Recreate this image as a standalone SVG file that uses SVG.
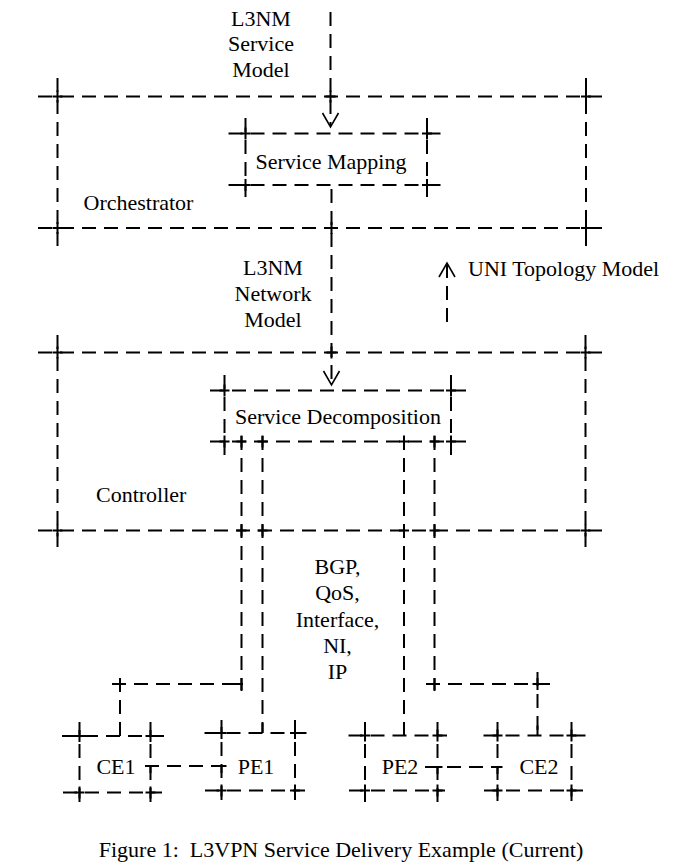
<svg xmlns="http://www.w3.org/2000/svg" width="677" height="868" viewBox="0 0 677 868">
<style>
.d{stroke:#000;stroke-width:2;stroke-dasharray:14 8;fill:none}
.s{stroke:#000;stroke-width:2;fill:none}
.a{stroke:#000;stroke-width:1.6;fill:none}
text{font-family:"Liberation Serif","Times New Roman",serif;font-size:22px;fill:#000}
.c{text-anchor:middle}
</style>
<rect width="677" height="868" fill="#fff"/>
<g id="orchestrator">
<path class="d" d="M38 96.5H603M38 228H603M57.5 78V247M586 78V247"/>
<path class="s" d="M52.5 96.5H62.5M57.5 90.5V102.5M581 96.5H591M586 90.5V102.5M52.5 228H62.5M57.5 222V234M581 228H591M586 222V234"/>
<text x="83.5" y="210">Orchestrator</text>
</g>
<g id="service-mapping">
<path class="d" d="M228.5 133.5H442.5M228.5 185H442.5M245.5 118V197M427 118V197"/>
<path class="s" d="M240.5 133.5H250.5M245.5 127.5V139.5M422 133.5H432M427 127.5V139.5M240.5 185H250.5M245.5 179V191M422 185H432M427 179V191"/>
<text class="c" x="331" y="169">Service Mapping</text>
</g>
<g id="controller">
<path class="d" d="M38 352.5H603M38 530.5H603M57.5 335V547M585.5 335V547"/>
<path class="s" d="M52.5 352.5H62.5M57.5 346.5V358.5M580.5 352.5H590.5M585.5 346.5V358.5M52.5 530.5H62.5M57.5 524.5V536.5M580.5 530.5H590.5M585.5 524.5V536.5"/>
<text x="96" y="501.5">Controller</text>
</g>
<g id="service-decomposition">
<path class="d" d="M210 390.5H467M210 441.5H467M224.5 375V457M451 375V457"/>
<path class="s" d="M219.5 390.5H229.5M224.5 384.5V396.5M446 390.5H456M451 384.5V396.5M219.5 441.5H229.5M224.5 435.5V447.5M446 441.5H456M451 435.5V447.5"/>
<text class="c" x="338" y="424">Service Decomposition</text>
</g>
<g id="ce1">
<path class="d" d="M62 736H166M63 792.5H162M79.5 722V803M150.5 722V803"/>
<path class="s" d="M74.5 736H84.5M79.5 730V742M145.5 736H155.5M150.5 730V742M74.5 792.5H84.5M79.5 786.5V798.5M145.5 792.5H155.5M150.5 786.5V798.5"/>
<text class="c" x="116" y="774">CE1</text>
</g>
<g id="pe1">
<path class="d" d="M204.5 733H307M205 790.5H305M221.5 720V801M295 720V801"/>
<path class="s" d="M216.5 733H226.5M221.5 727V739M290 733H300M295 727V739M216.5 790.5H226.5M221.5 784.5V796.5M290 790.5H300M295 784.5V796.5"/>
<text class="c" x="256" y="774">PE1</text>
</g>
<g id="pe2">
<path class="d" d="M348.5 735.5H447M349 790.5H445M365 722V802M437.5 722V802"/>
<path class="s" d="M360 735.5H370M365 729.5V741.5M432.5 735.5H442.5M437.5 729.5V741.5M360 790.5H370M365 784.5V796.5M432.5 790.5H442.5M437.5 784.5V796.5"/>
<text class="c" x="400" y="774">PE2</text>
</g>
<g id="ce2">
<path class="d" d="M483.5 735.5H586.5M484 790.5H583M497.5 722V801M571.5 722V801"/>
<path class="s" d="M492.5 735.5H502.5M497.5 729.5V741.5M566.5 735.5H576.5M571.5 729.5V741.5M492.5 790.5H502.5M497.5 784.5V796.5M566.5 790.5H576.5M571.5 784.5V796.5"/>
<text class="c" x="539" y="774">CE2</text>
</g>
<g id="connectors">
<path class="d" d="M330.5 12V126"/>
<path class="a" d="M322.5 113L330.5 127L338.5 113"/>
<path class="s" d="M325.5 96.5H335.5M330.5 90.5V102.5"/>
<path class="d" d="M331.5 189V384"/>
<path class="a" d="M323.5 371L331.5 385L339.5 371"/>
<path class="s" d="M326.5 228H336.5M331.5 222V234M326.5 352.5H336.5M331.5 346.5V358.5"/>
<path class="d" d="M447 264V328"/>
<path class="a" d="M439 277L447 263L455 277"/>
<path class="d" d="M241.5 436V691M112 684H243M120 678V736"/>
<path class="d" d="M262.5 436V733"/>
<path class="d" d="M404 436V735.5"/>
<path class="d" d="M434.5 436V691M426 684H551M537.5 672V735.5"/>
<path class="s" d="M236.5 441.5H246.5M241.5 435.5V447.5M257.5 441.5H267.5M262.5 435.5V447.5M399 441.5H409M404 435.5V447.5M429.5 441.5H439.5M434.5 435.5V447.5"/>
<path class="s" d="M236.5 530.5H246.5M241.5 524.5V536.5M257.5 530.5H267.5M262.5 524.5V536.5M399 530.5H409M404 524.5V536.5M429.5 530.5H439.5M434.5 524.5V536.5"/>
<path class="s" d="M115 684H125M120 678V690M236 684H243M241.5 678V690M429.5 684H439.5M434.5 678V690M532.5 684H542.5M537.5 678V690"/>
<path class="s" d="M120 726V736M262.5 723V733M404 725.5V735.5M537.5 725.5V735.5"/>
<path class="d" d="M145 766H221.5M425 767H497.5"/>
<path class="s" d="M145.5 766H155.5M150.5 766V773M216.5 766H226.5M221.5 766V773M432.5 767H442.5M437.5 767V774M492.5 767H502.5M497.5 767V774"/>
<text class="c" x="261" y="25.5">L3NM</text>
<text class="c" x="261" y="51">Service</text>
<text class="c" x="261" y="77">Model</text>
<text class="c" x="273" y="274.5">L3NM</text>
<text class="c" x="273" y="300.5">Network</text>
<text class="c" x="273" y="327">Model</text>
<text x="468" y="275.5">UNI Topology Model</text>
<text class="c" x="337.5" y="573.5">BGP,</text>
<text class="c" x="337.5" y="600">QoS,</text>
<text class="c" x="337.5" y="626.5">Interface,</text>
<text class="c" x="337.5" y="652.5">NI,</text>
<text class="c" x="337.5" y="679">IP</text>
</g>
<text id="caption" class="c" x="341" y="857" xml:space="preserve">Figure 1:  L3VPN Service Delivery Example (Current)</text>
</svg>
